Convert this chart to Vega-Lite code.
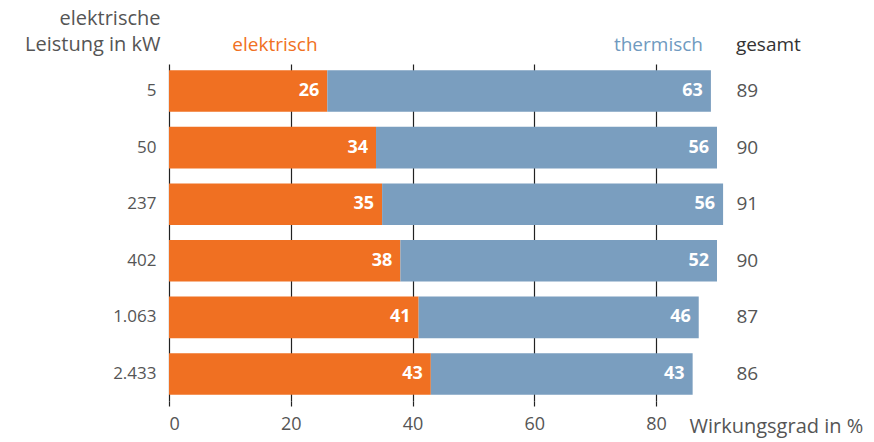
{
  "$schema": "https://vega.github.io/schema/vega-lite/v6.json",
  "width": 548,
  "height": 337,
  "autosize": "none",
  "padding": {"left": 169, "top": 64, "right": 157, "bottom": 41},
  "config": {"view": {"stroke": null}, "font": "Open Sans", "text": {"font": "Open Sans"}},
  "data": {"values": [
    {"kw": "5", "elektrisch": 26, "thermisch": 63, "gesamt": 89},
    {"kw": "50", "elektrisch": 34, "thermisch": 56, "gesamt": 90},
    {"kw": "237", "elektrisch": 35, "thermisch": 56, "gesamt": 91},
    {"kw": "402", "elektrisch": 38, "thermisch": 52, "gesamt": 90},
    {"kw": "1.063", "elektrisch": 41, "thermisch": 46, "gesamt": 87},
    {"kw": "2.433", "elektrisch": 43, "thermisch": 43, "gesamt": 86}
  ]},
  "encoding": {
    "y": {
      "field": "kw", "type": "nominal",
      "scale": {"domain": ["5", "50", "237", "402", "1.063", "2.433"], "paddingInner": 0.265, "paddingOuter": 0.11},
      "axis": {
        "title": ["elektrische", "Leistung in kW"],
        "titleAngle": 0, "titleAlign": "right", "titleBaseline": "top",
        "titleX": -9, "titleY": -56, "titleLineHeight": 26,
        "titleFont": "Open Sans", "titleFontSize": 20, "titleFontWeight": "normal", "titleColor": "#555",
        "labelFont": "Open Sans", "labelFontSize": 17, "labelColor": "#555", "labelPadding": 13,
        "ticks": false, "domain": false, "grid": false
      }
    }
  },
  "layer": [
    {
      "transform": [
        {"fold": ["elektrisch", "thermisch"], "as": ["typ", "wert"]},
        {"stack": "wert", "groupby": ["kw"], "sort": [{"field": "typ"}], "as": ["x0", "x1"]}
      ],
      "mark": {"type": "bar", "clip": false},
      "encoding": {
        "x": {
          "field": "x0", "type": "quantitative",
          "scale": {"domain": [0, 90], "nice": false},
          "axis": {
            "values": [0, 20, 40, 60, 80],
            "title": "Wirkungsgrad in %",
            "titleAlign": "left", "titleBaseline": "middle", "titleX": 520, "titleY": 25,
            "titleFont": "Open Sans", "titleFontSize": 20, "titleFontWeight": "normal", "titleColor": "#555",
            "labelFont": "Open Sans", "labelFontSize": 18, "labelColor": "#555", "labelPadding": 9,
            "grid": true, "gridColor": "#222", "gridWidth": 1.2,
            "ticks": true, "tickColor": "#222", "tickSize": 5, "tickWidth": 1.2,
            "domain": false
          }
        },
        "x2": {"field": "x1"},
        "color": {
          "field": "typ", "type": "nominal",
          "scale": {"domain": ["elektrisch", "thermisch"], "range": ["#F07022", "#7A9EBF"]},
          "legend": null
        }
      }
    },
    {
      "transform": [
        {"fold": ["elektrisch", "thermisch"], "as": ["typ", "wert"]},
        {"stack": "wert", "groupby": ["kw"], "sort": [{"field": "typ"}], "as": ["x0", "x1"]}
      ],
      "mark": {"type": "text", "align": "right", "baseline": "middle", "dx": -8, "fontWeight": "bold", "fontSize": 18, "color": "white", "font": "Open Sans"},
      "encoding": {
        "x": {"field": "x1", "type": "quantitative"},
        "text": {"field": "wert", "type": "quantitative"}
      }
    },
    {
      "mark": {"type": "text", "align": "left", "baseline": "middle", "fontSize": 19, "color": "#555", "font": "Open Sans"},
      "encoding": {
        "x": {"datum": 93.2, "type": "quantitative"},
        "text": {"field": "gesamt", "type": "quantitative"}
      }
    },
    {
      "data": {"values": [{"t": "elektrisch"}]},
      "mark": {"type": "text", "align": "center", "baseline": "middle", "fontSize": 19, "color": "#F07022", "font": "Open Sans"},
      "encoding": {"x": {"datum": 17.4, "type": "quantitative"}, "y": {"value": -19}, "text": {"field": "t"}}
    },
    {
      "data": {"values": [{"t": "thermisch"}]},
      "mark": {"type": "text", "align": "right", "baseline": "middle", "fontSize": 19, "color": "#6F9AC0", "font": "Open Sans"},
      "encoding": {"x": {"datum": 87.7, "type": "quantitative"}, "y": {"value": -19}, "text": {"field": "t"}}
    },
    {
      "data": {"values": [{"t": "gesamt"}]},
      "mark": {"type": "text", "align": "left", "baseline": "middle", "fontSize": 19, "color": "#333", "font": "Open Sans"},
      "encoding": {"x": {"datum": 93.1, "type": "quantitative"}, "y": {"value": -19}, "text": {"field": "t"}}
    }
  ]
}
